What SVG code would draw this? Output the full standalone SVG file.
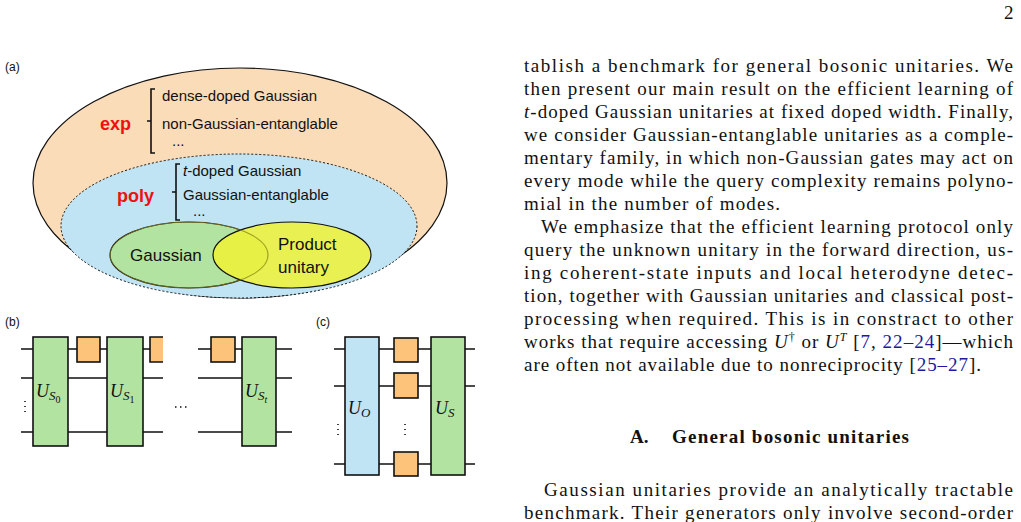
<svg xmlns="http://www.w3.org/2000/svg" width="1021" height="522" viewBox="0 0 1021 522">
<style>
.s{font-family:"Liberation Sans",Arial,sans-serif;fill:#111}
.t{font-family:"Liberation Serif","Times New Roman",serif;font-size:19px;fill:#111}
.m{font-family:"Liberation Serif","Times New Roman",serif;font-style:italic;fill:#111}
.w{stroke:#111;stroke-width:1.6;fill:none}
.g{fill:#b3e3a1;stroke:#111;stroke-width:1.6}
.b{fill:#c1e4f4;stroke:#111;stroke-width:1.6}
.o{fill:#fec37a;stroke:#111;stroke-width:1.6}
.r{font-family:"Liberation Sans",Arial,sans-serif;font-weight:bold;font-size:18px;fill:#f01010}
.l{fill:#1a1aa0}
</style>
<rect width="1021" height="522" fill="#fff"/>
<text class="t" x="1004" y="19" font-size="17">2</text>
<g id="panel-a">
<text class="s" x="5" y="71" font-size="12">(a)</text>
<ellipse id="exp-set" cx="240" cy="183" rx="207" ry="115" fill="#fbdcb9" stroke="#111" stroke-width="1.2"/>
<ellipse id="poly-set" cx="239" cy="226" rx="178" ry="72" fill="#c1e4f4" stroke="#111" stroke-width="1" stroke-dasharray="2,2"/>
<ellipse id="gaussian" cx="189" cy="255" rx="79" ry="33" fill="#b3e3a1" stroke="#111" stroke-width="1.2"/>
<ellipse id="product" cx="292" cy="255" rx="79" ry="33" fill="#eef235" fill-opacity="0.85" stroke="#111" stroke-width="1.2"/>
<ellipse cx="189" cy="255" rx="79" ry="33" fill="none" stroke="#8a8a20" stroke-width="0.7"/>
<text class="r" x="100" y="130">exp</text>
<path class="w" d="M155,89 h-4 v32 h-4 h4 v32 h4" stroke-width="1.2"/>
<text class="s" x="162" y="101" font-size="15">dense-doped Gaussian</text>
<text class="s" x="162" y="129" font-size="15">non-Gaussian-entanglable</text>
<text class="s" x="172" y="146" font-size="15">...</text>
<text class="r" x="117" y="202">poly</text>
<path class="w" d="M180,164 h-4 v28 h-4 h4 v28 h4" stroke-width="1.2"/>
<text class="s" x="183" y="176" font-size="15"><tspan font-style="italic">t</tspan>-doped Gaussian</text>
<text class="s" x="183" y="200" font-size="15">Gaussian-entanglable</text>
<text class="s" x="193" y="216" font-size="15">...</text>
<text class="s" x="130" y="261" font-size="17">Gaussian</text>
<text class="s" x="278" y="250" font-size="17">Product</text>
<text class="s" x="278" y="273" font-size="17">unitary</text>
</g>
<g id="panel-b">
<text class="s" x="5" y="326" font-size="12">(b)</text>
<g id="b-wires">
<path class="w" d="M21,349H163M21,378H163M21,432H163M198,349H292M198,378H292M198,432H292"/>
</g>
<g id="b-US0"><rect class="g" x="33" y="337" width="35" height="109"/><text class="m" x="36" y="397" font-size="18">U<tspan font-size="13" dy="3">S</tspan><tspan font-size="10" dy="3" font-style="normal">0</tspan></text></g>
<g id="b-sq1"><rect class="o" x="77" y="337" width="23" height="25"/></g>
<g id="b-US1"><rect class="g" x="107" y="337" width="36" height="109"/><text class="m" x="110" y="397" font-size="18">U<tspan font-size="13" dy="3">S</tspan><tspan font-size="10" dy="3" font-style="normal">1</tspan></text></g>
<g id="b-sq2"><path class="o" d="M163,337H150V362H163"/></g>
<g id="b-sq3"><rect class="o" x="211" y="337" width="24" height="25"/></g>
<g id="b-USt"><rect class="g" x="242" y="337" width="34" height="109"/><text class="m" x="245" y="397" font-size="18">U<tspan font-size="13" dy="3">S</tspan><tspan font-size="10" dy="3">t</tspan></text></g>
<path d="M175,407h1.5M180,407h1.5M185,407h1.5" stroke="#111" stroke-width="1.5"/>
<path d="M25,401v1M25,406v1M25,411v1" stroke="#111" stroke-width="1.6"/>
</g>
<g id="panel-c">
<text class="s" x="316" y="326" font-size="12">(c)</text>
<g id="c-wires"><path class="w" d="M334,349H475M334,386H475M334,464H475"/></g>
<g id="c-UO"><rect class="b" x="345" y="337" width="34" height="138"/><text class="m" x="348" y="414" font-size="18">U<tspan font-size="13" dy="3">O</tspan></text></g>
<rect class="o" x="394" y="338" width="24" height="24"/>
<rect class="o" x="394" y="373" width="24" height="25"/>
<rect class="o" x="394" y="452" width="24" height="24"/>
<g id="c-US"><rect class="g" x="431" y="337" width="34" height="138"/><text class="m" x="435" y="414" font-size="18">U<tspan font-size="13" dy="3">S</tspan></text></g>
<path d="M338,424v1M338,429v1M338,434v1M405,424v1M405,429v1M405,434v1" stroke="#111" stroke-width="1.6"/>
</g>
<g id="body">
<text class="t" x="524" y="72" textLength="489" lengthAdjust="spacing">tablish a benchmark for general bosonic unitaries. We</text>
<text class="t" x="524" y="95" textLength="489" lengthAdjust="spacing">then present our main result on the efficient learning of</text>
<text class="t" x="524" y="118" textLength="489" lengthAdjust="spacing"><tspan font-style="italic">t</tspan>-doped Gaussian unitaries at fixed doped width. Finally,</text>
<text class="t" x="524" y="141" textLength="489" lengthAdjust="spacing">we consider Gaussian-entanglable unitaries as a comple-</text>
<text class="t" x="524" y="164" textLength="489" lengthAdjust="spacing">mentary family, in which non-Gaussian gates may act on</text>
<text class="t" x="524" y="187" textLength="489" lengthAdjust="spacing">every mode while the query complexity remains polyno-</text>
<text class="t" x="524" y="210" textLength="256" lengthAdjust="spacing">mial in the number of modes.</text>
<text class="t" x="541" y="233" textLength="472" lengthAdjust="spacing">We emphasize that the efficient learning protocol only</text>
<text class="t" x="524" y="256" textLength="489" lengthAdjust="spacing">query the unknown unitary in the forward direction, us-</text>
<text class="t" x="524" y="279" textLength="489" lengthAdjust="spacing">ing coherent-state inputs and local heterodyne detec-</text>
<text class="t" x="524" y="302" textLength="489" lengthAdjust="spacing">tion, together with Gaussian unitaries and classical post-</text>
<text class="t" x="524" y="325" textLength="489" lengthAdjust="spacing">processing when required. This is in constract to other</text>
<text class="t" x="524" y="348" textLength="489" lengthAdjust="spacing">works that require accessing <tspan font-style="italic">U</tspan><tspan font-size="12" dy="-7">†</tspan><tspan dy="7"> or </tspan><tspan font-style="italic">U</tspan><tspan font-size="12" dy="-7" font-style="italic">T</tspan><tspan dy="7"> [</tspan><tspan class="l">7</tspan>, <tspan class="l">22–24</tspan>]—which</text>
<text class="t" x="524" y="371" textLength="457" lengthAdjust="spacing">are often not available due to nonreciprocity [<tspan class="l">25–27</tspan>].</text>
<text class="t" x="630" y="443" font-weight="bold" font-size="18"><tspan>A.</tspan><tspan x="672" textLength="237" lengthAdjust="spacing">General bosonic unitaries</tspan></text>
<text class="t" x="544" y="496" textLength="469" lengthAdjust="spacing">Gaussian unitaries provide an analytically tractable</text>
<text class="t" x="524" y="519" textLength="489" lengthAdjust="spacing">benchmark. Their generators only involve second-order</text>
</g>
</svg>
